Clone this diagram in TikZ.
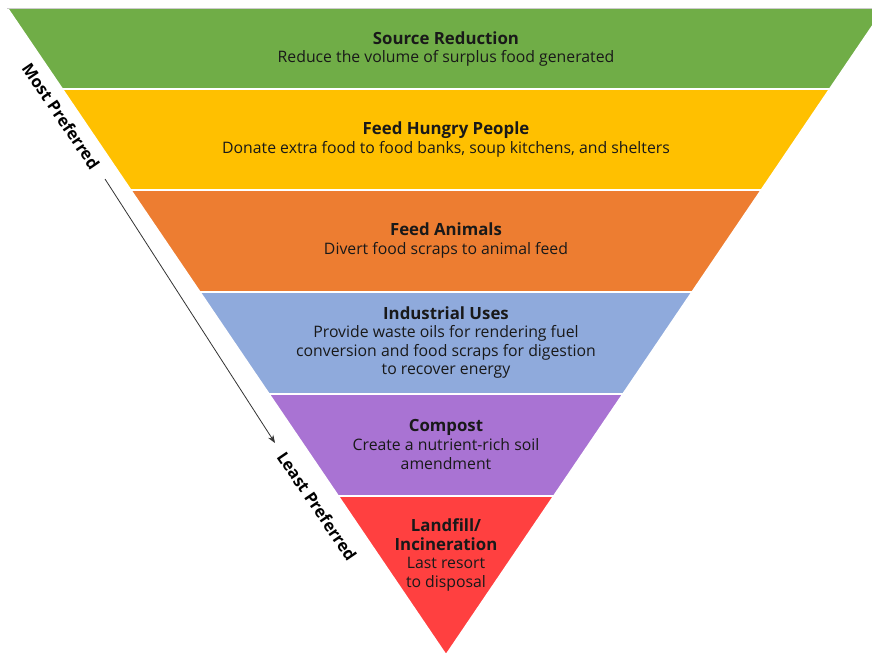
\documentclass[tikz,border=0pt]{standalone}
\usepackage{fontspec}
\setmainfont{Open Sans}
\usetikzlibrary{arrows.meta}
\tikzset{every picture/.style={line width=0.75pt}}
\newcommand{\lvltitle}[1]{{\fontsize{16.8}{19}\selectfont\bfseries #1}}
\tikzset{
  band/.style={draw=white, line width=1.6pt, line join=miter},
  lvl/.style={align=center, inner sep=0pt, text=black!90, font=\fontsize{15.8}{18.6}\selectfont},
  side/.style={inner sep=0pt, font=\fontsize{16.5}{18}\selectfont\bfseries, rotate=-55.8},
}
\definecolor{srcgreen}{RGB}{112,173,71}
\definecolor{feedgold}{RGB}{255,192,0}
\definecolor{animorange}{RGB}{237,125,49}
\definecolor{indblue}{RGB}{143,170,220}
\definecolor{compurple}{RGB}{169,115,211}
\definecolor{fillred}{RGB}{255,64,64}

\begin{document}
\begin{tikzpicture}[x=1pt,y=-1pt]
\clip (0,0) rectangle (872,655);
\useasboundingbox (0,0) rectangle (872,655);

%Shape: band 1
\draw [band, fill=srcgreen] (7.3,8) -- (884.7,8) -- (829.7,89) -- (62.3,89) -- cycle ;
%Shape: band 2
\draw [band, fill=feedgold] (62.3,89) -- (829.7,89) -- (761.3,190) -- (130.7,190) -- cycle ;
%Shape: band 3
\draw [band, fill=animorange] (130.7,190) -- (761.3,190) -- (692.1,292) -- (199.9,292) -- cycle ;
%Shape: band 4
\draw [band, fill=indblue] (199.9,292) -- (692.1,292) -- (623,394) -- (269,394) -- cycle ;
%Shape: band 5
\draw [band, fill=compurple] (269,394) -- (623,394) -- (553.8,496) -- (338.2,496) -- cycle ;
%Shape: band 6
\draw [band, fill=fillred] (338.2,496) -- (553.8,496) -- (446,655) -- cycle ;
%top rim
\draw [color=black!20, line width=0.8pt] (7.3,8) -- (872,8) ;

% Text Node
\node [lvl] (src) at (446,49) {\lvltitle{Source Reduction}\\Reduce the volume of surplus food generated};
% Text Node
\node [lvl] (hungry) at (446,139.5) {\lvltitle{Feed Hungry People}\\Donate extra food to food banks, soup kitchens, and shelters};
% Text Node
\node [lvl] (animals) at (446,240.5) {\lvltitle{Feed Animals}\\Divert food scraps to animal feed};
% Text Node
\node [lvl] (industry) at (446,342.5) {\lvltitle{Industrial Uses}\\Provide waste oils for rendering fuel\\conversion and food scraps for digestion\\to recover energy};
% Text Node
\node [lvl] (compost) at (446,444.5) {\lvltitle{Compost}\\Create a nutrient-rich soil\\amendment};
% Text Node
\node [lvl] (landfill) at (446,555) {\lvltitle{Landfill/}\\\lvltitle{Incineration}\\Last resort\\to disposal};

% Text Node
\node [side] (most) at (61,116) {Most Preferred};
% Text Node
\node [side] (least) at (317,506) {Least Preferred};

%Straight Lines
\coordinate (arrtop) at (105,179);
\coordinate (arrend) at (275,443);
\draw [color=black!80, line width=0.8pt, -{Stealth[length=8pt,width=6pt]}] (arrtop) -- (arrend) ;

\end{tikzpicture}
\end{document}
